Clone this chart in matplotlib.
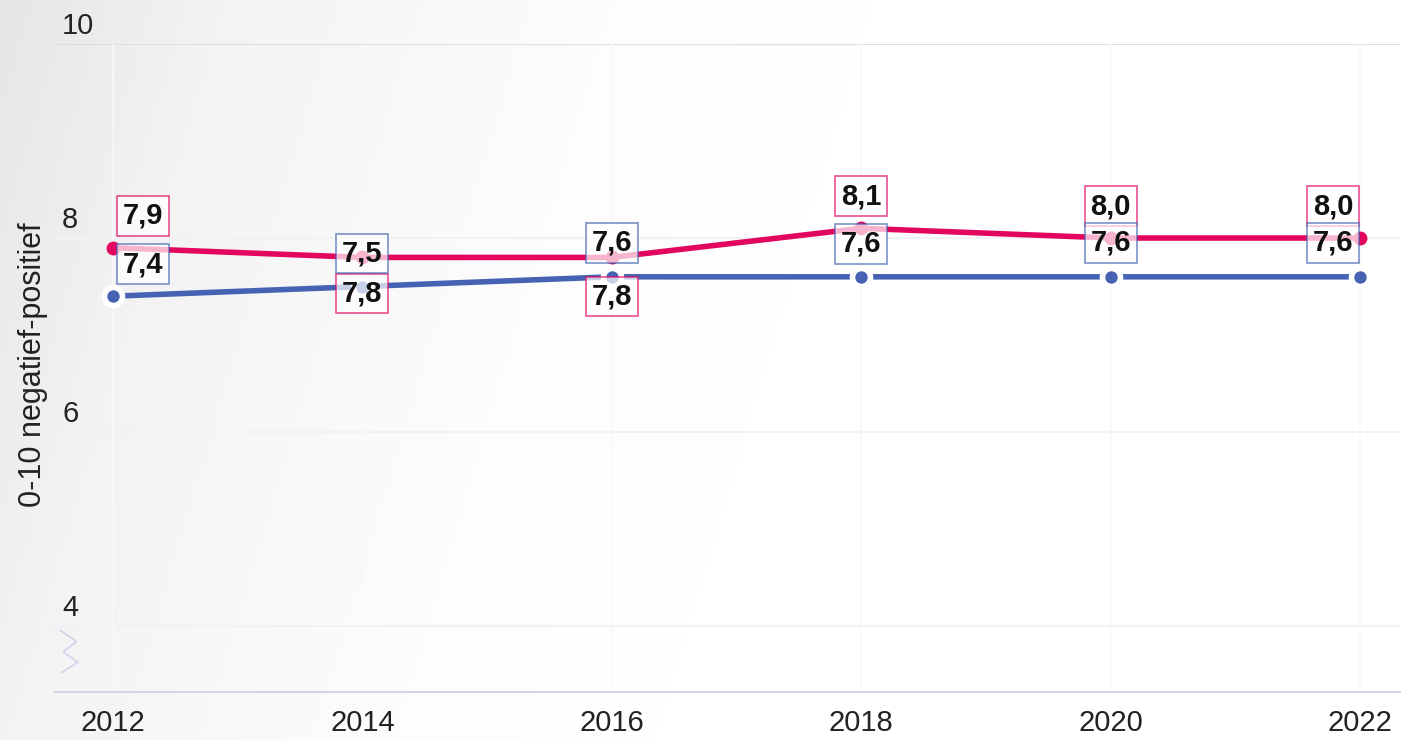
import numpy as np
import matplotlib.pyplot as plt
from matplotlib.colors import LinearSegmentedColormap

years = [2012, 2014, 2016, 2018, 2020, 2022]
pink_vals = [7.9, 7.8, 7.8, 8.1, 8.0, 8.0]
blue_vals = [7.4, 7.5, 7.6, 7.6, 7.6, 7.6]
yticks = [4, 6, 8, 10]
ylabel = '0-10 negatief-positief'

pink = '#e2065f'
blue = '#4563b2'

# label offsets in pixels (dx, dy)
pink_off = [(30, 32), (0, -36), (0, -39), (0, 32), (0, 32), (-27, 32)]
blue_off = [(30, 32), (0, 33), (0, 34), (0, 33), (0, 34), (-27, 34)]

plt.rcParams['font.family'] = ['Liberation Sans', 'DejaVu Sans']

fig = plt.figure(figsize=(14.03, 7.40), dpi=100)

# grey -> white background gradient
bg = fig.add_axes([0, 0, 1, 1], zorder=-10)
gx = np.linspace(0, 1, 300)
gy = np.linspace(0, 1, 200)
GX, GY = np.meshgrid(gx, gy)
grad = np.clip(GX * 1.6 + (1 - GY) * 0.25, 0, 1)
cmap = LinearSegmentedColormap.from_list('bg', [(0, '#e6e6e6'), (0.25, '#f3f3f3'),
                                                (0.7, '#fdfdfd'), (1, '#ffffff')])
bg.imshow(grad, aspect='auto', cmap=cmap, extent=[0, 1, 0, 1], origin='lower')
bg.axis('off')

ax = fig.add_axes([55/1403, 1-692/740, (1400-55)/1403, (692-44)/740])
ax.set_facecolor('none')
ax.set_xlim(2012 - 0.465, 2022.32)
ax.set_ylim(3.32, 10.0)

for s in ['top', 'right', 'left']:
    ax.spines[s].set_visible(False)
ax.spines['bottom'].set_color('#d4d4e8')
ax.spines['bottom'].set_linewidth(1.5)

ax.set_xticks(years)
ax.set_xticklabels([str(y) for y in years], fontsize=21, color='#222222')
ax.tick_params(axis='x', length=0, pad=12)
ax.set_yticks(yticks)
ax.set_yticklabels([])
ax.tick_params(axis='y', length=0)

for y in yticks:
    ax.axhline(y, color='#dcdcee' if y == 10 else '#f2f2f6', lw=1.5, zorder=0)
    ax.annotate(str(y), xy=(0, y), xycoords=('axes fraction', 'data'),
                xytext=(7, 18), textcoords='offset pixels',
                ha='left', va='center', fontsize=21, color='#222222')
for x in years:
    ax.axvline(x, color='#f8f8fa', lw=1.2, zorder=0)

ax.text(-0.0165, 0.505, ylabel, transform=ax.transAxes, rotation=90,
        ha='center', va='center', fontsize=22, color='#222222')

# axis break squiggle
zx = np.array([0.004, 0.016, 0.006, 0.017, 0.005])
zy = np.array([0.095, 0.078, 0.062, 0.046, 0.030])
ax.plot(zx, zy, transform=ax.transAxes, color='#d0d4ec', lw=1.2, clip_on=False)

ax.plot(years, pink_vals, color=pink, lw=4, marker='o', ms=9,
        mec=pink, zorder=3)
ax.plot(years, blue_vals, color=blue, lw=4, marker='o', ms=13,
        mfc=blue, mec='white', mew=4, zorder=3)

for vals, offs, col in [(pink_vals, pink_off, pink), (blue_vals, blue_off, blue)]:
    for x, v, (dx, dy) in zip(years, vals, offs):
        ax.annotate(f'{v:.1f}'.replace('.', ','), xy=(x, v), xytext=(dx, dy),
                    textcoords='offset pixels', ha='center', va='center',
                    fontsize=21, fontweight='bold', color='#111111',
                    bbox=dict(boxstyle='square,pad=0.2', fc='white', alpha=0.7,
                              ec=col, lw=1.2),
                    zorder=5)

fig.savefig('out.png', dpi=100)
